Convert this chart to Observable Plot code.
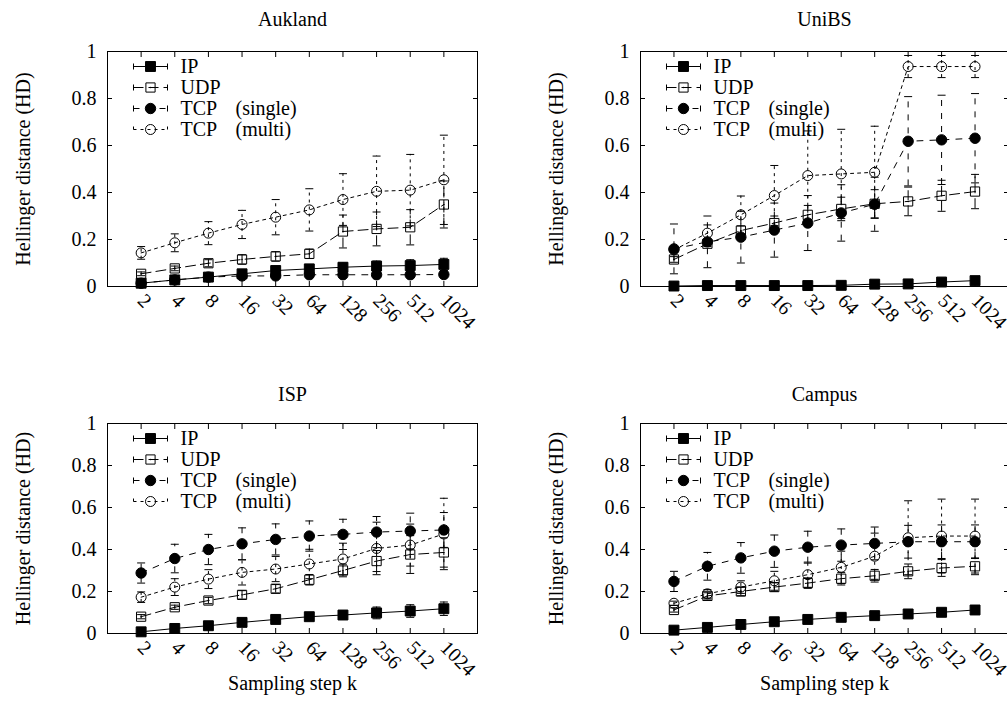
<!DOCTYPE html>
<html><head><meta charset="utf-8">
<script src="https://cdn.jsdelivr.net/npm/d3@7"></script>
<script src="https://cdn.jsdelivr.net/npm/@observablehq/plot@0.6"></script>
<style>
html,body{margin:0;padding:0;background:#fff;overflow:hidden;}
#root{position:relative;width:1007px;height:716px;overflow:hidden;background:#fff;}
#root > svg{position:absolute;}
</style></head><body><div id="root"></div>
<script>
// ---------- data ----------
const kSteps = [2, 4, 8, 16, 32, 64, 128, 256, 512, 1024];
const yTicks = [0, 0.2, 0.4, 0.6, 0.8, 1];
const yTickLabels = ["0", "0.2", "0.4", "0.6", "0.8", "1"];
const seriesNames = ["IP", "UDP", "TCP (single)", "TCP (multi)"];
const legendMain = ["IP", "UDP", "TCP", "TCP"];
const legendNote = ["", "", "(single)", "(multi)"];
const panelTitles = ["Aukland", "UniBS", "ISP", "Campus"];
const yLabel = "Hellinger distance (HD)";
const xLabel = "Sampling step k";

// Aukland
const auklandIP = [0.014, 0.028, 0.04, 0.054, 0.068, 0.075, 0.082, 0.087, 0.089, 0.094];
const auklandIPErr = [0.005, 0.006, 0.008, 0.01, 0.012, 0.014, 0.018, 0.021, 0.025, 0.026];
const auklandUDP = [0.054, 0.077, 0.099, 0.115, 0.128, 0.139, 0.234, 0.245, 0.252, 0.349];
const auklandUDPErr = [0.008, 0.01, 0.015, 0.02, 0.02, 0.02, 0.07, 0.072, 0.075, 0.1];
const auklandTCPs = [0.014, 0.028, 0.04, 0.045, 0.045, 0.05, 0.05, 0.05, 0.05, 0.051];
const auklandTCPsErr = [0.004, 0.004, 0.005, 0.005, 0.005, 0.005, 0.005, 0.005, 0.005, 0.005];
const auklandTCPm = [0.143, 0.186, 0.227, 0.264, 0.295, 0.326, 0.37, 0.405, 0.41, 0.454];
const auklandTCPmErr = [0.027, 0.038, 0.049, 0.06, 0.075, 0.09, 0.11, 0.15, 0.152, 0.19];

// UniBS
const unibsIP = [0.002, 0.004, 0.004, 0.004, 0.004, 0.005, 0.01, 0.011, 0.019, 0.025];
const unibsIPErr = [0.002, 0.002, 0.002, 0.002, 0.002, 0.002, 0.003, 0.003, 0.004, 0.005];
const unibsUDP = [0.115, 0.182, 0.238, 0.27, 0.305, 0.33, 0.352, 0.362, 0.386, 0.404];
const unibsUDPErr = [0.012, 0.012, 0.02, 0.03, 0.04, 0.05, 0.06, 0.061, 0.066, 0.073];
const unibsTCPs = [0.16, 0.19, 0.21, 0.24, 0.27, 0.313, 0.35, 0.618, 0.624, 0.631];
const unibsTCPsErr = [0.106, 0.11, 0.11, 0.115, 0.117, 0.12, 0.115, 0.19, 0.19, 0.19];
const unibsTCPm = [0.156, 0.227, 0.305, 0.387, 0.472, 0.479, 0.486, 0.936, 0.936, 0.936];
const unibsTCPmErr = [0.012, 0.035, 0.08, 0.128, 0.19, 0.19, 0.196, 0.047, 0.047, 0.047];

// ISP
const ispIP = [0.008, 0.024, 0.037, 0.053, 0.067, 0.08, 0.088, 0.098, 0.107, 0.118];
const ispIPErr = [0.005, 0.006, 0.008, 0.01, 0.012, 0.015, 0.02, 0.028, 0.03, 0.032];
const ispUDP = [0.08, 0.125, 0.157, 0.184, 0.213, 0.256, 0.3, 0.345, 0.376, 0.386];
const ispUDPErr = [0.01, 0.01, 0.015, 0.02, 0.02, 0.025, 0.03, 0.05, 0.09, 0.07];
const ispTCPs = [0.288, 0.357, 0.4, 0.427, 0.448, 0.464, 0.472, 0.483, 0.488, 0.493];
const ispTCPsErr = [0.048, 0.068, 0.072, 0.076, 0.074, 0.072, 0.072, 0.074, 0.085, 0.083];
const ispTCPm = [0.173, 0.221, 0.259, 0.291, 0.307, 0.331, 0.355, 0.405, 0.421, 0.474];
const ispTCPmErr = [0.025, 0.04, 0.045, 0.06, 0.06, 0.07, 0.075, 0.125, 0.1, 0.17];

// Campus
const campusIP = [0.016, 0.029, 0.043, 0.056, 0.067, 0.077, 0.085, 0.093, 0.101, 0.112];
const campusIPErr = [0.005, 0.006, 0.008, 0.01, 0.01, 0.012, 0.013, 0.015, 0.017, 0.02];
const campusUDP = [0.112, 0.179, 0.2, 0.221, 0.24, 0.261, 0.275, 0.296, 0.312, 0.32];
const campusUDPErr = [0.01, 0.015, 0.02, 0.02, 0.025, 0.03, 0.03, 0.035, 0.04, 0.04];
const campusTCPs = [0.248, 0.32, 0.36, 0.392, 0.411, 0.421, 0.429, 0.437, 0.437, 0.437];
const campusTCPsErr = [0.048, 0.066, 0.073, 0.077, 0.076, 0.077, 0.078, 0.078, 0.08, 0.08];
const campusTCPm = [0.144, 0.189, 0.221, 0.251, 0.28, 0.315, 0.368, 0.456, 0.464, 0.464];
const campusTCPmErr = [0.01, 0.02, 0.03, 0.045, 0.06, 0.077, 0.11, 0.176, 0.176, 0.176];

// ---------- styles ----------
const FONT = "Liberation Serif";
const seriesStyle = {
  "IP":           {symbol: "square", fill: "black", r: 5.6, dash: undefined},
  "UDP":          {symbol: "square", fill: "none",  r: 5.2, dash: "10,5", centerDot: true},
  "TCP (single)": {symbol: "circle", fill: "black", r: 5.2, dash: "6,7"},
  "TCP (multi)":  {symbol: "circle", fill: "none",  r: 5,   dash: "3,4"}
};
const capSym = {draw(ctx) { ctx.moveTo(-4, 0); ctx.lineTo(4, 0); }};
const legendSym = {draw(ctx) {
  ctx.moveTo(-17, 0); ctx.lineTo(17, 0);
  ctx.moveTo(-17, -3); ctx.lineTo(-17, 3);
  ctx.moveTo(17, -3); ctx.lineTo(17, 3);
}};

const panelData = [
  [[auklandIP, auklandIPErr], [auklandUDP, auklandUDPErr], [auklandTCPs, auklandTCPsErr], [auklandTCPm, auklandTCPmErr]],
  [[unibsIP, unibsIPErr], [unibsUDP, unibsUDPErr], [unibsTCPs, unibsTCPsErr], [unibsTCPm, unibsTCPmErr]],
  [[ispIP, ispIPErr], [ispUDP, ispUDPErr], [ispTCPs, ispTCPsErr], [ispTCPm, ispTCPmErr]],
  [[campusIP, campusIPErr], [campusUDP, campusUDPErr], [campusTCPs, campusTCPsErr], [campusTCPm, campusTCPmErr]]
];

const layouts = [
  {left: 0,   top: 0,   width: 503, height: 358, mL: 107, mR: 26, mT: 51, mB: 72, titleDy: -32, xl: false},
  {left: 503, top: 0,   width: 520, height: 358, mL: 137, mR: 15, mT: 51, mB: 72, titleDy: -32, xl: false},
  {left: 0,   top: 358, width: 503, height: 358, mL: 107, mR: 26, mT: 65, mB: 83, titleDy: -29, xl: true},
  {left: 503, top: 358, width: 520, height: 358, mL: 137, mR: 15, mT: 65, mB: 83, titleDy: -29, xl: true}
];
const legendRowDy = [15, 36, 57, 78];

const root = document.getElementById("root");
const txt = {fill: "black", fontFamily: FONT, fontSize: 20};

panelData.forEach((pd, p) => {
  const L = layouts[p];
  const marks = [];
  marks.push(Plot.frame({stroke: "black"}));
  marks.push(Plot.axisY(yTicks, {anchor: "left", tickSize: -5, fill: "none", label: null}));
  marks.push(Plot.axisY(yTicks, {anchor: "right", tickSize: -5, fill: "none", label: null}));
  marks.push(Plot.axisX(kSteps, {anchor: "bottom", tickSize: -5, fill: "none", label: null}));
  marks.push(Plot.axisX(kSteps, {anchor: "top", tickSize: -5, fill: "none", label: null}));
  marks.push(Plot.text(yTicks, {...txt, y: d => d, text: (d, i) => yTickLabels[i], frameAnchor: "left", dx: -11, textAnchor: "end", lineAnchor: "middle"}));
  marks.push(Plot.text(kSteps, {...txt, x: d => d, text: d => String(d), frameAnchor: "bottom", dy: 11, rotate: 45, textAnchor: "start", lineAnchor: "middle"}));
  marks.push(Plot.text([yLabel], {...txt, frameAnchor: "left", dx: -84, rotate: -90, textAnchor: "middle", lineAnchor: "middle"}));
  if (L.xl) marks.push(Plot.text([xLabel], {...txt, frameAnchor: "bottom", dy: 50, textAnchor: "middle", lineAnchor: "middle"}));
  marks.push(Plot.text([panelTitles[p]], {...txt, frameAnchor: "top", dy: L.titleDy, textAnchor: "middle", lineAnchor: "middle"}));

  seriesNames.forEach((s, si) => {
    const st = seriesStyle[s];
    const [vals, errs] = pd[si];
    const rows = kSteps.map((k, i) => ({k, v: vals[i], e: errs[i]}));
    marks.push(Plot.line(rows, {x: "k", y: "v", stroke: "black", strokeWidth: 1, strokeDasharray: st.dash, clip: true}));
    marks.push(Plot.ruleX(rows, {x: "k", y1: d => d.v - d.e, y2: d => d.v + d.e, stroke: "black", strokeWidth: 1, strokeDasharray: st.dash, clip: true}));
    marks.push(Plot.dot(rows, {x: "k", y: d => d.v + d.e, symbol: capSym, stroke: "black", fill: "none", strokeWidth: 1, clip: true}));
    marks.push(Plot.dot(rows, {x: "k", y: d => d.v - d.e, symbol: capSym, stroke: "black", fill: "none", strokeWidth: 1, clip: true}));
    marks.push(Plot.dot(rows, {x: "k", y: "v", symbol: st.symbol, r: st.r, fill: st.fill, stroke: "black", strokeWidth: 1}));
    if (st.centerDot) marks.push(Plot.dot(rows, {x: "k", y: "v", r: 0.8, fill: "black", stroke: "none"}));

    const dy = legendRowDy[si];
    marks.push(Plot.dot([s], {x: null, y: null, frameAnchor: "top-left", dx: 43, dy, symbol: legendSym, stroke: "black", fill: "none", strokeWidth: 1, strokeDasharray: st.dash}));
    marks.push(Plot.dot([s], {x: null, y: null, frameAnchor: "top-left", dx: 43, dy, symbol: st.symbol, r: st.r, fill: st.fill, stroke: "black", strokeWidth: 1}));
    if (st.centerDot) marks.push(Plot.dot([s], {x: null, y: null, frameAnchor: "top-left", dx: 43, dy, r: 0.8, fill: "black", stroke: "none"}));
    marks.push(Plot.text([legendMain[si]], {...txt, frameAnchor: "top-left", dx: 73, dy, textAnchor: "start", lineAnchor: "middle"}));
    if (legendNote[si]) marks.push(Plot.text([legendNote[si]], {...txt, frameAnchor: "top-left", dx: 128, dy, textAnchor: "start", lineAnchor: "middle"}));
  });

  const svg = Plot.plot({
    width: L.width,
    height: L.height,
    marginLeft: L.mL,
    marginRight: L.mR,
    marginTop: L.mT,
    marginBottom: L.mB,
    x: {type: "log", base: 2, domain: [1, 2048]},
    y: {type: "linear", domain: [0, 1]},
    style: {fontFamily: FONT, fontSize: "20px", background: "transparent", color: "black", overflow: "visible"},
    marks
  });
  svg.style.left = L.left + "px";
  svg.style.top = L.top + "px";
  root.appendChild(svg);
});
</script>
</body></html>
